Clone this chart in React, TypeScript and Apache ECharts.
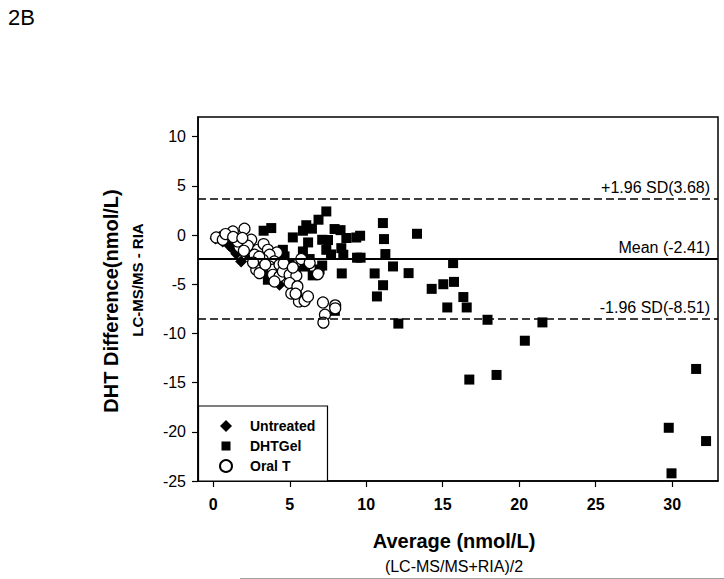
import React, { useEffect, useRef } from "react";
import * as echarts from "echarts";

// ---- data ----
const untreated: [number, number][] = [
  [0.15, -0.34], [0.4, -0.2], [0.62, -0.65], [0.85, -0.5], [1.06, -1.09], [1.28, -1.43],
  [1.5, -1.9], [1.82, -2.68], [2.15, -1.83], [2.4, -2.2], [2.7, -2.51], [2.81, -2.68],
  [3.1, -3.1], [3.46, -3.53], [3.68, -4.2], [4.0, -4.5], [4.33, -5.05],
];

const dhtGel: [number, number][] = [
  [3.29, 0.44], [3.79, 0.71], [5.2, -0.24], [5.86, 0.44], [6.08, 1.0], [6.45, 0.65],
  [6.88, 1.56], [7.39, 2.4], [6.2, -0.75], [7.12, -0.48], [7.5, -0.5], [7.93, 0.61],
  [8.32, 0.5], [8.7, -0.3], [9.35, -0.25], [9.6, -0.07], [8.37, -1.33], [8.5, -2.0],
  [7.39, -1.5], [7.7, -1.97], [9.4, -2.3], [9.63, -2.3], [6.3, -2.44], [8.4, -3.9],
  [7.12, -3.1], [6.95, -3.5], [6.5, -4.1], [4.55, -1.5], [4.66, -2.17], [4.99, -2.85],
  [3.57, -4.54], [7.95, -7.7], [5.86, -1.67], [5.4, -3.6], [6.0, -3.2], [10.55, -3.9],
  [11.09, 1.22], [11.16, -0.41], [11.25, -1.93], [13.32, 0.13], [11.75, -3.19], [12.77, -3.87],
  [11.1, -5.1], [10.7, -6.24], [12.1, -9.0], [15.68, -2.85], [15.74, -4.76], [15.04, -5.0],
  [14.28, -5.47], [16.35, -6.3], [15.3, -7.36], [16.57, -7.36], [17.93, -8.61], [21.52, -8.88],
  [20.37, -10.74], [16.74, -14.69], [18.52, -14.22], [31.57, -13.61], [29.78, -19.59],
  [32.22, -20.94], [29.96, -24.22],
];

const oralT: [number, number][] = [
  [0.19, -0.24], [0.62, -0.48], [1.06, 0.03], [1.28, 0.37], [0.8, 0.1], [2.04, 0.64],
  [2.48, -0.48], [1.71, -1.22], [2.26, -1.09], [1.6, -0.65], [2.91, -1.5], [2.7, -2.0],
  [3.29, -0.92], [3.57, -1.5], [4.16, -1.77], [3.68, -2.0], [3.24, -2.51], [3.99, -2.68],
  [2.81, -3.53], [3.02, -3.87], [3.68, -3.19], [3.9, -3.53], [4.33, -3.02], [3.9, -4.04],
  [4.33, -4.2], [4.55, -3.7], [4.99, -4.04], [5.43, -4.14], [4.99, -4.88], [5.1, -5.95],
  [5.43, -6.05], [5.6, -6.75], [5.97, -6.7], [6.19, -6.24], [5.75, -2.44], [6.3, -2.85],
  [5.5, -5.22], [6.84, -3.97], [7.17, -6.85], [7.3, -8.1], [7.2, -8.9], [7.97, -7.15],
  [7.97, -7.45], [4.0, -4.72], [5.38, -5.97], [1.3, -0.2], [2.0, -1.6], [3.0, -2.2],
  [1.9, -0.3], [2.6, -2.8], [4.6, -2.9], [5.2, -3.3], [3.4, -3.0],
];

const seriesNames = ["Untreated", "DHTGel", "Oral T"];
const refValues = [3.68, -2.41, -8.51];
const refLabels = ["+1.96 SD(3.68)", "Mean (-2.41)", "-1.96 SD(-8.51)"];
const xTicks = [0, 5, 10, 15, 20, 25, 30];
const yTicks = [-25, -20, -15, -10, -5, 0, 5, 10];

const FONT = "'Liberation Sans', Arial, Helvetica, sans-serif";

const legendIcons = [
  "path://M6,0L12,6L6,12L0,6Z",
  "path://M0,0h0.01v0.01h-0.01z M1.5,1.5h9v9h-9z M11.99,11.99h0.01v0.01h-0.01z",
  "circle",
];

export default function App() {
  const ref = useRef<HTMLDivElement>(null);

  useEffect(() => {
    if (!ref.current) return;
    const chart = echarts.init(ref.current, null, { renderer: "svg" });

    const markLines = refValues.map((v, i) => ({
      yAxis: v,
      lineStyle: {
        color: "#000",
        width: i === 1 ? 2 : 1.5,
        type: i === 1 ? "solid" : [8, 4],
      },
      label: {
        show: true,
        formatter: refLabels[i],
        position: "insideEndTop",
        distance: [8, 3],
        color: "#000",
        fontSize: 16,
        fontFamily: FONT,
      },
    }));

    chart.setOption({
      animation: false,
      backgroundColor: "#fff",
      textStyle: { fontFamily: FONT },
      grid: {
        left: 198,
        top: 117,
        right: 6,
        bottom: 98,
        show: true,
        borderColor: "#000",
        borderWidth: 1.5,
        backgroundColor: "transparent",
      },
      xAxis: {
        type: "value",
        min: -1,
        max: 33,
        splitLine: { show: false },
        axisLine: { onZero: false, lineStyle: { color: "#000", width: 1.5 } },
        axisTick: { show: true, length: 6, customValues: xTicks, lineStyle: { color: "#000", width: 1.2 } },
        axisLabel: {
          customValues: xTicks,
          color: "#000",
          fontSize: 16,
          fontWeight: "bold",
          fontFamily: FONT,
          margin: 15,
        },
      },
      yAxis: {
        type: "value",
        min: -25,
        max: 12,
        splitLine: { show: false },
        axisLine: { onZero: false, lineStyle: { color: "#000", width: 1.5 } },
        axisTick: { show: true, length: 6, customValues: yTicks, lineStyle: { color: "#000", width: 1.2 } },
        axisLabel: {
          customValues: yTicks,
          color: "#000",
          fontSize: 16,
          fontFamily: FONT,
          margin: 12,
        },
      },
      legend: {
        data: seriesNames.map((n, i) => ({ name: n, icon: legendIcons[i] })),
        orient: "vertical",
        left: 219,
        top: 419,
        padding: 0,
        itemWidth: 12,
        itemHeight: 12,
        itemGap: 6,
        z: 10,
        textStyle: {
          color: "#000",
          fontSize: 14,
          fontWeight: "bold",
          fontFamily: FONT,
          padding: [0, 0, 0, 13],
        },
      },
      graphic: [
        {
          type: "rect",
          z: 5,
          shape: { x: 198.5, y: 406, width: 129, height: 75 },
          style: { fill: "#fff", stroke: "#000", lineWidth: 1.2 },
        },
        {
          type: "text",
          x: 8,
          y: 6,
          style: { text: "2B", font: `22px ${FONT}`, fill: "#000" },
        },
        {
          type: "text",
          x: 111,
          y: 301,
          rotation: Math.PI / 2,
          style: {
            text: "DHT Difference(nmol/L)",
            font: `bold 20px ${FONT}`,
            fill: "#000",
            align: "center",
            verticalAlign: "middle",
          },
        },
        {
          type: "text",
          x: 137,
          y: 280,
          rotation: Math.PI / 2,
          style: {
            text: "LC-MS/MS - RIA",
            font: `bold 15px ${FONT}`,
            fill: "#000",
            align: "center",
            verticalAlign: "middle",
          },
        },
        {
          type: "text",
          x: 454,
          y: 541,
          style: {
            text: "Average (nmol/L)",
            font: `bold 20px ${FONT}`,
            fill: "#000",
            align: "center",
            verticalAlign: "middle",
          },
        },
        {
          type: "text",
          x: 454,
          y: 566,
          style: {
            text: "(LC-MS/MS+RIA)/2",
            font: `16px ${FONT}`,
            fill: "#000",
            align: "center",
            verticalAlign: "middle",
          },
        },
        {
          type: "line",
          shape: { x1: 240, y1: 578.5, x2: 724, y2: 578.5 },
          style: { stroke: "#a0a0a0", lineWidth: 1 },
        },
      ],
      series: [
        {
          name: "Untreated",
          type: "scatter",
          symbol: "diamond",
          symbolSize: 12,
          itemStyle: { color: "#000", opacity: 1 },
          data: untreated,
          z: 2,
        },
        {
          name: "DHTGel",
          type: "scatter",
          symbol: "rect",
          symbolSize: 10,
          itemStyle: { color: "#000", opacity: 1 },
          data: dhtGel,
          z: 3,
        },
        {
          name: "Oral T",
          type: "scatter",
          symbol: "circle",
          symbolSize: 11,
          itemStyle: { color: "#fff", borderColor: "#000", borderWidth: 1.2, opacity: 1 },
          data: oralT,
          z: 4,
        },
        {
          name: "ref",
          type: "scatter",
          data: [],
          silent: true,
          markLine: {
            silent: true,
            symbol: "none",
            data: markLines,
          },
        },
      ],
    });

    return () => chart.dispose();
  }, []);

  return (
    <div
      ref={ref}
      style={{ position: "fixed", left: 0, top: 0, width: 724, height: 579, background: "#fff" }}
    />
  );
}
